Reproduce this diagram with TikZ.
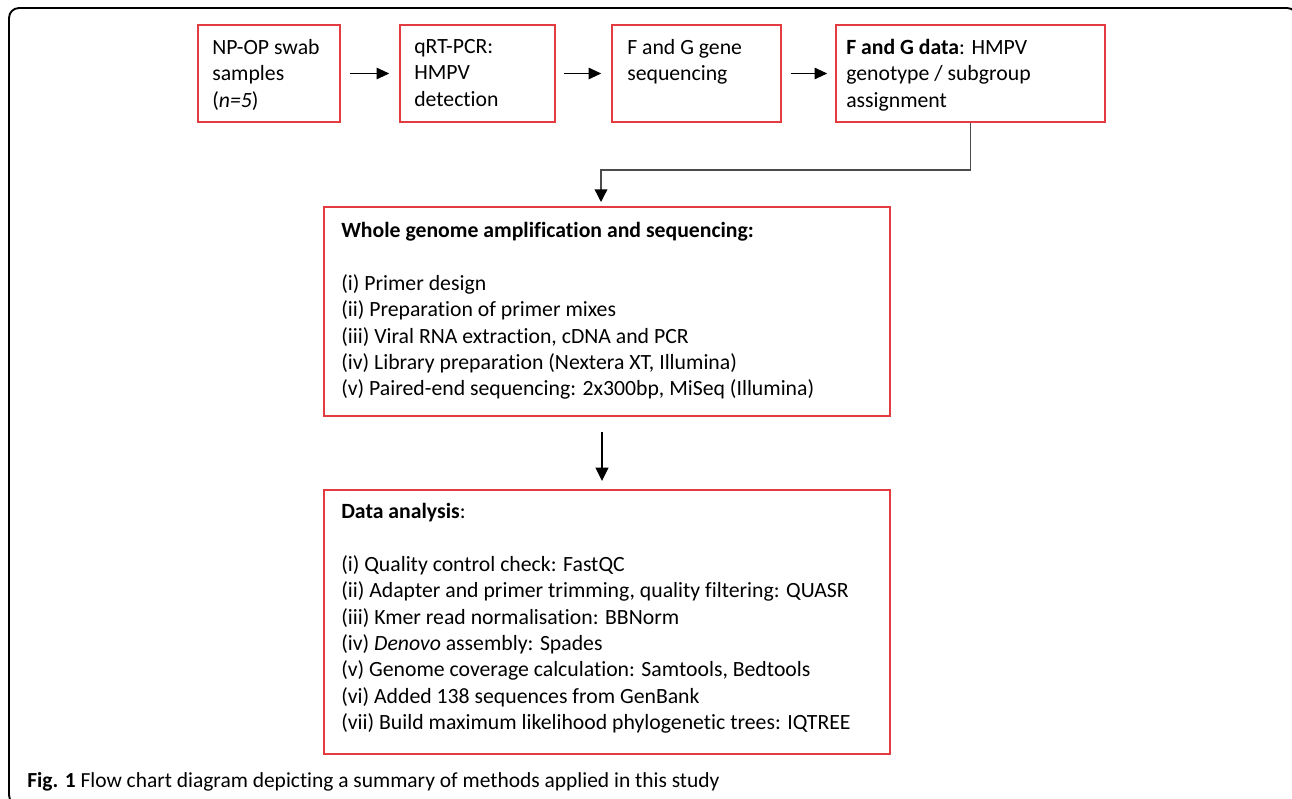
\documentclass[tikz,border=0pt]{standalone}
\usepackage{fontspec}
\setmainfont[Ligatures={NoCommon}]{Carlito}
\usetikzlibrary{arrows.meta,calc,fit}
\definecolor{boxred}{RGB}{226,60,64}
\definecolor{linegray}{RGB}{75,75,75}
\tikzset{
  redbox/.style={draw=boxred, line width=1.1pt, inner sep=0pt},
  txt/.style={anchor=north west, inner sep=0pt, align=left, font=\fontsize{16.3}{19.8}\selectfont},
  arr/.style={-{Triangle[length=9.5pt,width=8.5pt]}, line width=1.3pt},
}
\begin{document}
\begin{tikzpicture}[x=0.75pt,y=-0.75pt]
\useasboundingbox (0,0) rectangle (1292,799);
\begin{scope}
  \clip (0,0) rectangle (1292,799);
  \draw[line width=1.4pt, rounded corners=7.5pt] (9,8) rectangle (1297,805);
\end{scope}
% boxes
\node[redbox, fit={(198,25) (340,122)}] (b1) {};
\node[redbox, fit={(400,25) (555,122)}] (b2) {};
\node[redbox, fit={(612,25) (781,122)}] (b3) {};
\node[redbox, fit={(836,25) (1105,122)}] (b4) {};
\node[redbox, fit={(324,207) (890,416)}] (b5) {};
\node[redbox, fit={(324,490) (890,754)}] (b6) {};
% texts
\node[txt] (t1) at (212,39) {NP-OP swab\\samples\\(\textit{n=5})};
\node[txt] (t2) at (414,39) {qRT-PCR:\\HMPV\\detection};
\node[txt] (t3) at (627,39) {F and G gene\\sequencing};
\node[txt] (t4) at (846,39) {\textbf{F and G data}: HMPV\\genotype / subgroup\\assignment};
\node[txt] (t5) at (341,222) {\textbf{Whole genome amplification and sequencing:}\\[19.8pt]
(i) Primer design\\
(ii) Preparation of primer mixes\\
(iii) Viral RNA extraction, cDNA and PCR\\
(iv) Library preparation (Nextera XT, Illumina)\\
(v) Paired-end sequencing: 2x300bp, MiSeq (Illumina)};
\node[txt] (t6) at (341,503) {\textbf{Data analysis}:\\[19.8pt]
(i) Quality control check: FastQC\\
(ii) Adapter and primer trimming, quality filtering: QUASR\\
(iii) Kmer read normalisation: BBNorm\\
(iv) \textit{Denovo} assembly: Spades\\
(v) Genome coverage calculation: Samtools, Bedtools\\
(vi) Added 138 sequences from GenBank\\
(vii) Build maximum likelihood phylogenetic trees: IQTREE};
% caption
\node[anchor=base west, inner sep=0pt, font=\fontsize{16.1}{18}\selectfont] (cap) at (27,787)
  {\textbf{Fig. 1} Flow chart diagram depicting a summary of methods applied in this study};
% connectors
\draw[arr, shorten <=6.75pt, shorten >=7.5pt] (b1) -- (b2);
\draw[arr, shorten <=6pt, shorten >=7.5pt] (b2) -- (b3);
\draw[arr, shorten <=6.75pt, shorten >=6pt] (b3) -- (b4);
\coordinate (k) at (601,170);
\coordinate (e5) at (601,207);
\draw[-{Triangle[length=9.5pt,width=9.5pt,color=black,fill=black]}, line width=1pt, draw=linegray, shorten >=3.75pt] (b4.south) |- (k) -- (e5);
\coordinate (s5) at (602,416);
\coordinate (n6) at (602,490);
\draw[-{Triangle[length=10pt,width=9.5pt]}, line width=1.3pt, shorten <=12pt, shorten >=6.75pt] (s5) -- (n6);
\end{tikzpicture}
\end{document}
